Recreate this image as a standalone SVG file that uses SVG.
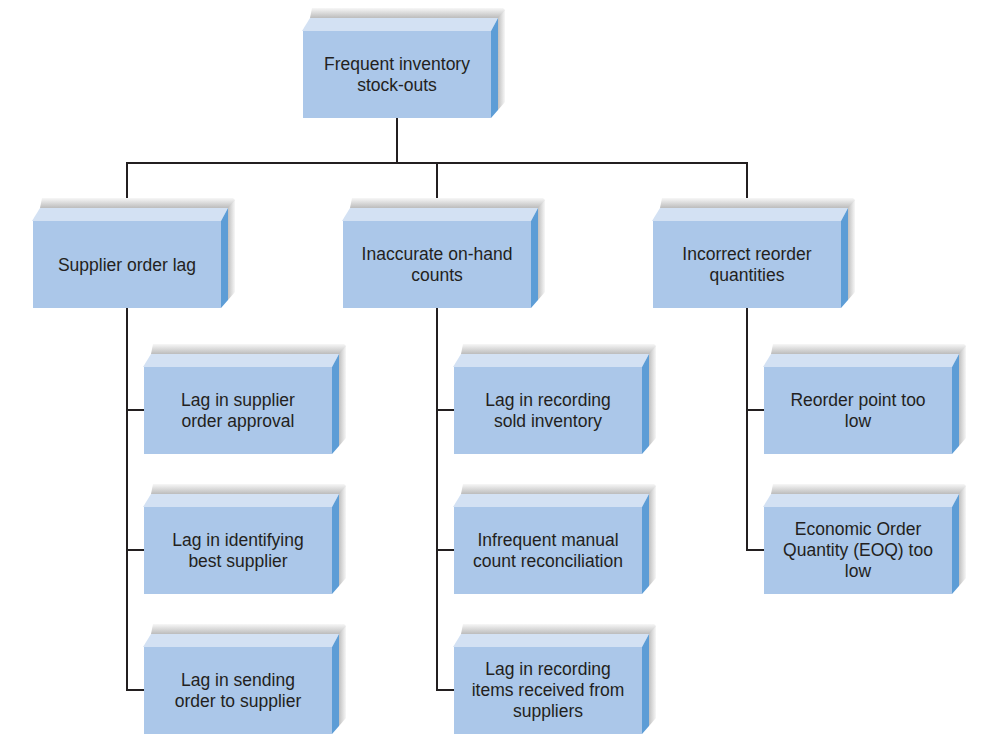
<svg xmlns="http://www.w3.org/2000/svg" xmlns:xlink="http://www.w3.org/1999/xlink" width="996" height="745" viewBox="0 0 996 745">
<style>
.front{fill:#abc7e9}
.topf{fill:#d3e1f3}
.side{fill:#5d9dd6}
.lbl{font-family:"Liberation Sans",Arial,sans-serif;font-size:17.5px;fill:#231f20;text-anchor:middle}
.con{fill:none;stroke:#231f20;stroke-width:2}
</style>
<defs>
<linearGradient id="shT" x1="0" y1="1" x2="0" y2="0">
<stop offset="0" stop-color="#bcbcbc"/>
<stop offset="1" stop-color="#f7f7f7"/>
</linearGradient>
<linearGradient id="shR" x1="0" y1="0" x2="1" y2="0">
<stop offset="0" stop-color="#c0c0c0"/>
<stop offset="1" stop-color="#f7f7f7"/>
</linearGradient>
<g id="box">
<polygon points="9,-23 200,-23 202,-21 202,-13 7,-13" fill="url(#shT)"/>
<polygon points="195,-13 202,-21 202,71 195,79" fill="url(#shR)"/>
<polygon class="topf" points="-1,0 7,-13 195,-13 188,0"/>
<polygon class="side" points="188,0 195,-13 195,79 188,87"/>
<rect class="front" x="0" y="0" width="188" height="87"/>
</g>
</defs>
<rect width="996" height="745" fill="#ffffff"/>
<g id="connectors">
<polyline class="con" points="397,118 397,163"/>
<polyline class="con" points="127,221 127,163 747,163 747,221"/>
<polyline class="con" points="437,163 437,221"/>
<polyline class="con" points="127,308 127,690 144,690"/>
<line class="con" x1="127" y1="410" x2="144" y2="410"/>
<line class="con" x1="127" y1="550" x2="144" y2="550"/>
<polyline class="con" points="437,308 437,690 454,690"/>
<line class="con" x1="437" y1="410" x2="454" y2="410"/>
<line class="con" x1="437" y1="550" x2="454" y2="550"/>
<polyline class="con" points="747,308 747,550 764,550"/>
<line class="con" x1="747" y1="410" x2="764" y2="410"/>
</g>
<g id="n-root" transform="translate(303,31)">
<use xlink:href="#box" href="#box"/>
<text class="lbl" x="94" y="39">Frequent inventory</text>
<text class="lbl" x="94" y="60">stock-outs</text>
</g>
<g id="n-supplier" transform="translate(33,221)">
<use xlink:href="#box" href="#box"/>
<text class="lbl" x="94" y="50">Supplier order lag</text>
</g>
<g id="n-inaccurate" transform="translate(343,221)">
<use xlink:href="#box" href="#box"/>
<text class="lbl" x="94" y="39">Inaccurate on-hand</text>
<text class="lbl" x="94" y="60">counts</text>
</g>
<g id="n-incorrect" transform="translate(653,221)">
<use xlink:href="#box" href="#box"/>
<text class="lbl" x="94" y="39">Incorrect reorder</text>
<text class="lbl" x="94" y="60">quantities</text>
</g>
<g id="n-approval" transform="translate(144,367)">
<use xlink:href="#box" href="#box"/>
<text class="lbl" x="94" y="39">Lag in supplier</text>
<text class="lbl" x="94" y="60">order approval</text>
</g>
<g id="n-identifying" transform="translate(144,507)">
<use xlink:href="#box" href="#box"/>
<text class="lbl" x="94" y="39">Lag in identifying</text>
<text class="lbl" x="94" y="60">best supplier</text>
</g>
<g id="n-sending" transform="translate(144,647)">
<use xlink:href="#box" href="#box"/>
<text class="lbl" x="94" y="39">Lag in sending</text>
<text class="lbl" x="94" y="60">order to supplier</text>
</g>
<g id="n-sold" transform="translate(454,367)">
<use xlink:href="#box" href="#box"/>
<text class="lbl" x="94" y="39">Lag in recording</text>
<text class="lbl" x="94" y="60">sold inventory</text>
</g>
<g id="n-manual" transform="translate(454,507)">
<use xlink:href="#box" href="#box"/>
<text class="lbl" x="94" y="39">Infrequent manual</text>
<text class="lbl" x="94" y="60">count reconciliation</text>
</g>
<g id="n-received" transform="translate(454,647)">
<use xlink:href="#box" href="#box"/>
<text class="lbl" x="94" y="28">Lag in recording</text>
<text class="lbl" x="94" y="49">items received from</text>
<text class="lbl" x="94" y="70">suppliers</text>
</g>
<g id="n-reorder" transform="translate(764,367)">
<use xlink:href="#box" href="#box"/>
<text class="lbl" x="94" y="39">Reorder point too</text>
<text class="lbl" x="94" y="60">low</text>
</g>
<g id="n-eoq" transform="translate(764,507)">
<use xlink:href="#box" href="#box"/>
<text class="lbl" x="94" y="28">Economic Order</text>
<text class="lbl" x="94" y="49">Quantity (EOQ) too</text>
<text class="lbl" x="94" y="70">low</text>
</g>
</svg>
